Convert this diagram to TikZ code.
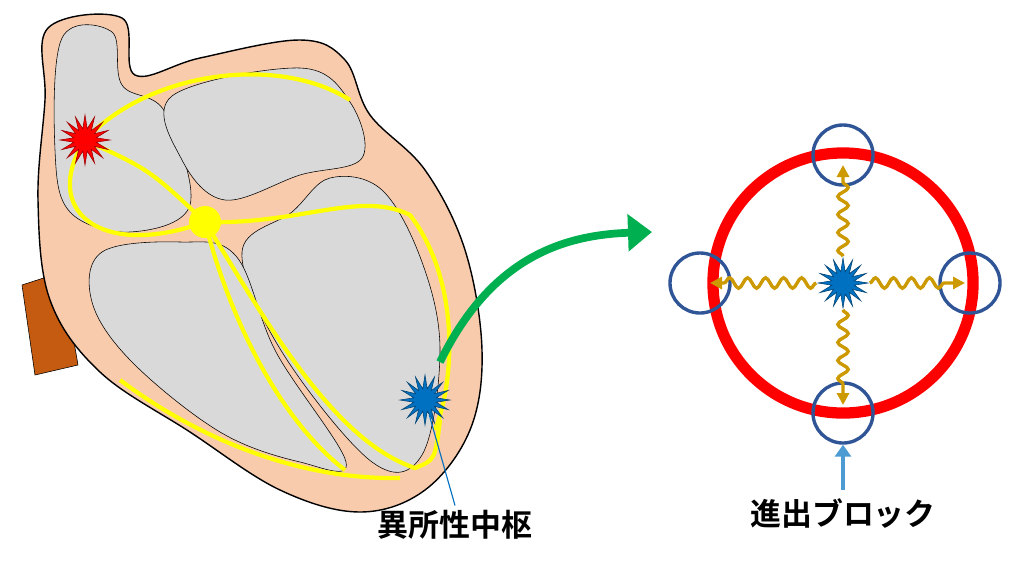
\documentclass[tikz,border=0pt]{standalone}
\usepackage{fontspec}
\newfontfamily\jpfont{Noto Sans CJK JP}[BoldFont={* Bold}]
\usetikzlibrary{arrows.meta,positioning,shapes.geometric,decorations.pathmorphing}
\definecolor{skin}{RGB}{248,203,173}
\definecolor{chamber}{RGB}{217,217,217}
\definecolor{path}{RGB}{255,255,0}
\definecolor{vessel}{RGB}{197,90,17}
\definecolor{ringred}{RGB}{255,0,0}
\definecolor{blockblue}{RGB}{47,85,151}
\definecolor{wavegold}{RGB}{204,153,0}
\definecolor{arrowgreen}{RGB}{0,176,80}
\definecolor{focusblue}{RGB}{0,112,192}
\begin{document}
\begin{tikzpicture}[x=0.025cm, y=-0.025cm,
  burst/.style={star, star points=16, star point ratio=2.2, draw=#1!60!black,
    fill=#1, minimum size=1.25cm, inner sep=0pt},
  block/.style={circle, draw=blockblue, line width=2.4pt, minimum size=1.5cm},
  wave/.style={wavegold, line width=2.4pt, -{Triangle[length=3mm,width=3mm]},
    decorate, decoration={snake, amplitude=1.3mm, segment length=4.5mm, post length=3mm}},
  conduct/.style={path, line width=3pt},
  jptext/.style={font=\jpfont\bfseries\fontsize{22}{26}\selectfont}]
\useasboundingbox (0,0) rectangle (1024,574);
% Heart
\fill[vessel, draw=black] (22,285) -- (62,272) -- (78,365) -- (35,375) -- cycle;
\draw[black, fill=skin, line width=1pt] plot[smooth cycle, tension=0.6] coordinates
  {(48,28) (122,18) (135,75) (200,58) (300,40) (345,60) (370,115) (425,170)
   (465,250) (482,350) (470,430) (425,490) (360,512) (280,490) (190,432)
   (100,372) (50,300) (38,200) (45,100)};
\draw[black, fill=chamber] plot[smooth cycle, tension=0.6] coordinates
  {(62,38) (112,32) (122,85) (165,112) (190,205) (130,232) (70,212) (55,150)};
\draw[black, fill=chamber] plot[smooth cycle, tension=0.6] coordinates
  {(172,96) (300,68) (350,102) (362,158) (300,175) (225,200) (182,160)};
\draw[black, fill=chamber] plot[smooth cycle, tension=0.6] coordinates
  {(330,178) (382,190) (422,262) (440,350) (422,455) (372,462) (282,352)
   (242,252) (292,212)};
\draw[black, fill=chamber] plot[smooth cycle, tension=0.6] coordinates
  {(102,252) (180,242) (236,256) (276,352) (346,462) (300,462) (220,432)
   (132,362) (92,302)};
% Conduction paths
\draw[conduct] (85,140) .. controls (150,170) .. (205,222);
\draw[conduct] (85,140) .. controls (150,70) and (280,55) .. (350,100);
\draw[conduct] (85,140) .. controls (40,210) and (100,260) .. (205,222);
\draw[conduct] (205,222) .. controls (300,225) and (360,190) .. (410,215)
  .. controls (460,280) and (455,380) .. (435,430);
\draw[conduct] (205,222) .. controls (260,310) and (330,440) .. (415,468)
  .. controls (435,460) .. (440,420);
\draw[conduct] (205,222) .. controls (230,320) and (280,420) .. (345,470);
\draw[conduct] (120,380) .. controls (200,440) and (300,480) .. (400,478);
\node[circle, fill=path, minimum size=0.8cm, inner sep=0pt] (avnode) at (205,222) {};
\node[burst=ringred] (sanode) at (85,140) {};
\node[burst=focusblue] (focus) at (425,400) {};
% Green arrow to zoom
\coordinate (zoomstart) at (440,362);
\coordinate (zoomend) at (652,232);
\draw[arrowgreen, line width=5.5pt, -{Triangle[length=6mm,width=9mm]}]
  (zoomstart) .. controls (490,260) and (560,235) .. (zoomend);
% Label for ectopic focus
\node[jptext] (focuslabel) at (455,525) {異所性中枢};
\draw[focusblue, line width=0.8pt] (focus) -- (focuslabel.north);
% Zoomed ring
\node[circle, draw=ringred, line width=8pt, minimum size=6.5cm] (ring) at (843,283) {};
\node[burst=focusblue] (center) at (843,283) {};
\node[block] (top) at (843,155) {};
\node[block] (left) at (700,283) {};
\node[block] (right) at (970,283) {};
\node[block] (bottom) at (843,413) {};
\draw[wave] (center) -- (843,165);
\draw[wave] (center) -- (710,283);
\draw[wave] (center) -- (965,283);
\draw[wave] (center) -- (843,405);
\node[jptext] (blocklabel) at (843,513) {進出ブロック};
\draw[focusblue!70, line width=2.5pt, -{Triangle[length=3mm,width=4mm]}]
  ([yshift=2pt]blocklabel.north) -- (bottom.south);
\end{tikzpicture}
\end{document}
